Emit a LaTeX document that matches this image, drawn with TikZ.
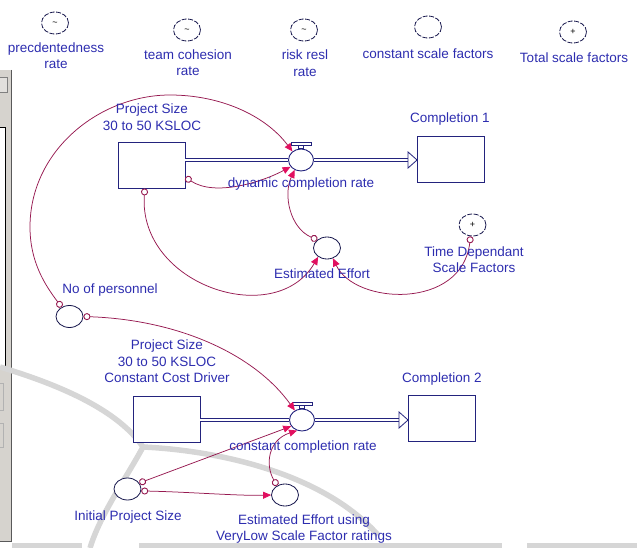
\documentclass[tikz,border=0pt]{standalone}
\usepackage{fontspec}
\setmainfont{Liberation Sans}
\usetikzlibrary{arrows.meta,calc,shapes.geometric}
\definecolor{stockblue}{RGB}{35,35,125}
\definecolor{labelblue}{RGB}{45,45,175}
\definecolor{linkred}{RGB}{150,25,80}
\definecolor{tipred}{RGB}{225,15,95}
\definecolor{panelgray}{RGB}{214,211,206}
\definecolor{wmgray}{RGB}{214,214,214}
\begin{document}
\begin{tikzpicture}[x=1pt,y=-1pt,
        lbl/.style={text=labelblue, align=center, inner sep=0pt, font=\fontsize{13.5}{16.5}\selectfont},
        stock/.style={draw=stockblue, fill=white, line width=0.9pt, minimum width=67pt, minimum height=46pt, inner sep=0pt},
        conv/.style={ellipse, draw=stockblue!60!black, fill=white, line width=0.8pt, minimum width=27pt, minimum height=22pt, inner sep=0pt, font=\fontsize{9}{9}\selectfont},
        ghost/.style={conv, dash pattern=on 5pt off 1.5pt},
        valve/.style={ellipse, draw=stockblue, fill=white, line width=0.9pt, minimum width=25pt, minimum height=22pt, inner sep=0pt},
        valvetop/.style={draw=stockblue, fill=white, line width=0.8pt},
        pipe/.style={draw=stockblue, line width=0.8pt, double=white, double distance=2.4pt},
        pipetip/.style={draw=stockblue, fill=white, line width=0.8pt, line join=miter},
        link/.style={draw=linkred, line width=0.75pt, arrows={Circle[open, fill=white, length=7pt, width=7pt, line width=0.9pt]-Triangle[length=8pt, width=7pt, color=tipred]}},
        wmark/.style={draw=wmgray, line width=5.5pt}]
    \useasboundingbox (0,0) rectangle (637,548);

    \fill[panelgray] (0,70) rectangle (11,541);
    \draw[gray!70!black, line width=1pt] (11,70) -- (11,541) -- (0,541);
    \draw[gray, fill=panelgray!70!white] (-1,77) rectangle (7,92);
    \draw[black, fill=white] (-1,127) rectangle (5,367);
    \draw[gray!60] (-1,383) rectangle (3,410);
    \draw[gray!60] (-1,423) rectangle (3,447);

    \draw[wmark] (0,367) .. controls (60,385) and (118,410) .. (143,447) .. controls (125,480) and (100,515) .. (90,548);
    \draw[wmark] (143,447) .. controls (210,450) and (320,470) .. (378,535);
    \draw[wmark] (12,546) -- (82,546) (139,546) -- (502,546) (527,546) -- (637,546);

    \foreach \nm/\cx/\cy/\sym/\lx/\ly/\txt in {
            prec/55/23/{\raisebox{-6pt}{\textasciitilde}}/56/55.5/{precdentedness\\rate},
            team/187/30/{\raisebox{-6pt}{\textasciitilde}}/188/62.5/{team cohesion\\rate},
            risk/304/30/{\raisebox{-6pt}{\textasciitilde}}/305/63/{risk resl\\rate},
            cons/428/27/{}/428/54/{constant scale factors},
            total/573/32/{+}/574/58/{Total scale factors}} {
            \node[ghost] (\nm) at (\cx,\cy) {\sym};
            \node[lbl] (\nm-l) at (\lx,\ly) {\txt};
        }

    \node[stock] (box1) at (151.5,165) {};
    \node[stock] (comp1) at (451,159) {};
    \node[valve] (valve1) at (301,160) {};
    \node[conv] (eff1) at (327,248) {};
    \node[ghost] (tdsf) at (472.5,225) {+};
    \node[conv] (pers) at (69.5,316.5) {};

    \node[stock] (box2) at (166.5,419) {};
    \node[stock] (comp2) at (442,418.5) {};
    \node[valve] (valve2) at (302,420) {};
    \node[conv] (init) at (127.5,489) {};
    \node[conv] (eff2) at (285,495) {};

    \draw[pipe] (box1.east |- valve1.west) -- (valve1.west);
    \draw[pipe] (valve1.east) -- ($(comp1.west |- valve1.east)+(-9,0)$);
    \draw[pipetip] ($(comp1.west |- valve1.east)+(-9,-8)$) -- (comp1.west |- valve1.east) -- ($(comp1.west |- valve1.east)+(-9,8)$) -- cycle;
    \draw[valvetop] ($(valve1.north)+(-10,-3)$) rectangle ($(valve1.north)+(10,-6)$);
    \draw[valvetop] ($(valve1.north)+(-2.5,0)$) rectangle ($(valve1.north)+(2.5,-3)$);

    \draw[pipe] (box2.east |- valve2.west) -- (valve2.west);
    \draw[pipe] (valve2.east) -- ($(comp2.west |- valve2.east)+(-9,0)$);
    \draw[pipetip] ($(comp2.west |- valve2.east)+(-9,-8)$) -- (comp2.west |- valve2.east) -- ($(comp2.west |- valve2.east)+(-9,8)$) -- cycle;
    \draw[valvetop] ($(valve2.north)+(-10,-3)$) rectangle ($(valve2.north)+(10,-6)$);
    \draw[valvetop] ($(valve2.north)+(-2.5,0)$) rectangle ($(valve2.north)+(2.5,-3)$);

    \draw[link] (box1.-20) .. controls (215,197) and (262,182) .. (valve1.213);
    \draw[link] (box1.-106) .. controls (138,285) and (275,330) .. (eff1.225);
    \draw[link] (eff1.140) .. controls (290,228) and (283,195) .. (valve1.237);
    \draw[link] (tdsf.-100) .. controls (462,310) and (355,305) .. (eff1.-60);
    \draw[link] (pers.130) .. controls (45,285) and (30,262) .. (30,227) .. controls (30,150) and (100,95) .. (170,95) .. controls (220,95) and (265,115) .. (valve1.135);
    \draw[link] (pers.0) .. controls (180,320) and (255,355) .. (valve2.127);
    \draw[link] (init.27) -- (valve2.210);
    \draw[link] (init.-8) .. controls (190,492) and (240,496) .. (eff2.180);
    \draw[link] (eff2.130) .. controls (265,465) and (268,440) .. (valve2.245);

    \node[lbl] (box1-l) at (152,117) {Project Size\\30 to 50 KSLOC};
    \node[lbl] (comp1-l) at (450,119) {Completion 1};
    \node[lbl] (valve1-l) at (301,184) {dynamic completion rate};
    \node[lbl] (eff1-l) at (322,274) {Estimated Effort};
    \node[lbl] (tdsf-l) at (474,259.5) {Time Dependant\\Scale Factors};
    \node[lbl] (pers-l) at (110,290) {No of personnel};
    \node[lbl] (box2-l) at (167,361.5) {Project Size\\30 to 50 KSLOC\\Constant Cost Driver};
    \node[lbl] (comp2-l) at (442,379) {Completion 2};
    \node[lbl] (valve2-l) at (303,447) {constant completion rate};
    \node[lbl] (init-l) at (128,517) {Initial Project Size};
    \node[lbl] (eff2-l) at (304,529) {Estimated Effort using\\VeryLow Scale Factor ratings};
\end{tikzpicture}
\end{document}
